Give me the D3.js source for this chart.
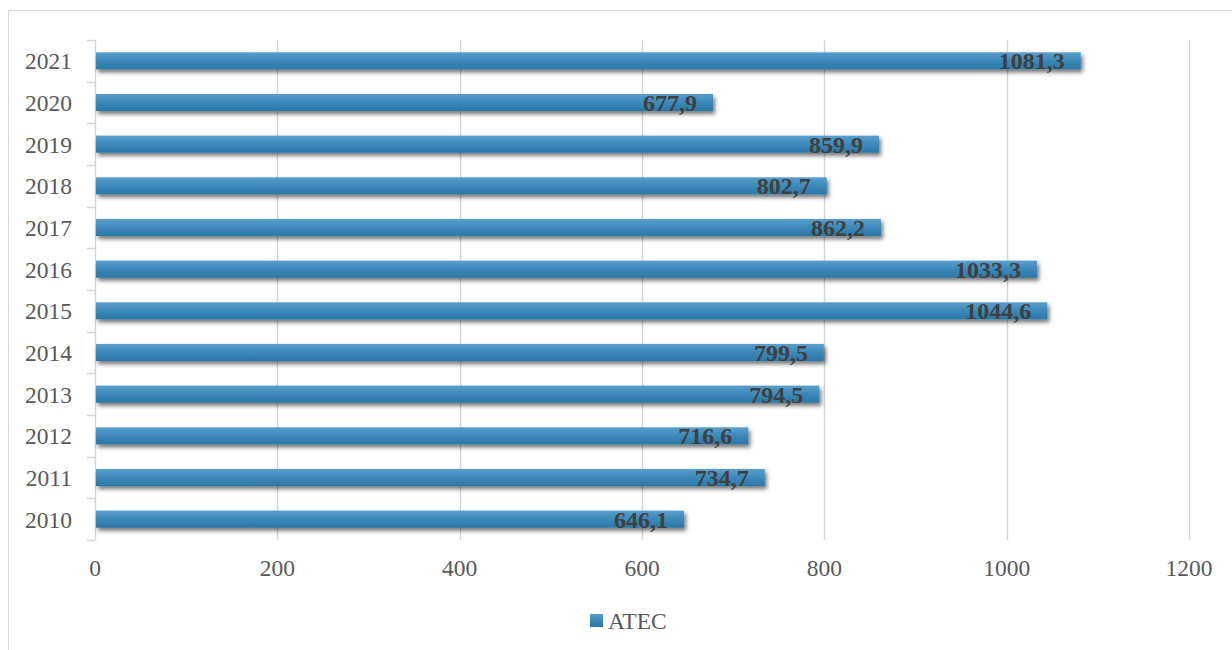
<!DOCTYPE html>
<html>
<head>
<meta charset="utf-8">
<script src="https://cdn.jsdelivr.net/npm/d3@7"></script>
<style>
html,body{margin:0;padding:0;background:#fff;}
svg{display:block;}
</style>
</head>
<body>
<svg id="chart" width="1232" height="650"></svg>
<script>
const years = ["2010","2011","2012","2013","2014","2015","2016","2017","2018","2019","2020","2021"];
const atec = [646.1, 734.7, 716.6, 794.5, 799.5, 1044.6, 1033.3, 862.2, 802.7, 859.9, 677.9, 1081.3];
const xTicks = [0, 200, 400, 600, 800, 1000, 1200];
const seriesName = "ATEC";

(function(){
const svg = d3.select("#chart");
const defs = svg.append("defs");
const grad = defs.append("linearGradient").attr("id","barGrad").attr("x1",0).attr("y1",0).attr("x2",0).attr("y2",1);
grad.append("stop").attr("offset","0%").attr("stop-color","#5a9ecb");
grad.append("stop").attr("offset","45%").attr("stop-color","#3e8bbc");
grad.append("stop").attr("offset","100%").attr("stop-color","#2a77a6");
const f = defs.append("filter").attr("id","shadow").attr("x","-5%").attr("y","-50%").attr("width","110%").attr("height","250%");
f.append("feDropShadow").attr("dx",2).attr("dy",3).attr("stdDeviation",2).attr("flood-color","#000").attr("flood-opacity",0.55);

// chart border
svg.append("rect").attr("x",8.5).attr("y",10.5).attr("width",1240).attr("height",660)
  .attr("fill","none").attr("stroke","#d9d9d9").attr("stroke-width",1);

const pLeft = 95, pRight = 1189, pTop = 40, pBottom = 540;
const x = d3.scaleLinear().domain([0,1200]).range([pLeft,pRight]);
const y = d3.scaleBand().domain(years.slice().reverse()).range([pTop,pBottom]).paddingInner(0.59).paddingOuter(0.295);
const yb = d3.scaleBand().domain(years.slice().reverse()).range([pTop,pBottom]);

// gridlines
svg.append("g").selectAll("line").data(xTicks.slice(1)).join("line")
  .attr("x1",d=>Math.round(x(d))+0.5).attr("x2",d=>Math.round(x(d))+0.5)
  .attr("y1",pTop).attr("y2",pBottom)
  .attr("stroke","#d4d4d4").attr("stroke-width",1.4);

// y axis line and ticks
svg.append("line").attr("x1",pLeft+0.5).attr("x2",pLeft+0.5).attr("y1",pTop).attr("y2",pBottom)
  .attr("stroke","#d4d4d4").attr("stroke-width",1.4);
const tickYs = years.map(d=>yb(d)).concat([pBottom]);
svg.append("g").selectAll("line").data(tickYs).join("line")
  .attr("x1",pLeft-8).attr("x2",pLeft).attr("y1",d=>Math.round(d)+0.5).attr("y2",d=>Math.round(d)+0.5)
  .attr("stroke","#d4d4d4").attr("stroke-width",1.4);

// bars
const data = years.map((yr,i)=>({yr, v: atec[i]}));
svg.append("g").selectAll("rect").data(data).join("rect")
  .attr("x",x(0)+1).attr("y",d=>y(d.yr)).attr("width",d=>x(d.v)-x(0)-1).attr("height",y.bandwidth())
  .attr("fill","url(#barGrad)").attr("filter","url(#shadow)");

// value labels
svg.append("g").selectAll("text").data(data).join("text")
  .attr("x",d=>x(d.v)-16).attr("y",d=>y(d.yr)+y.bandwidth()/2)
  .attr("dy","0.36em").attr("text-anchor","end")
  .attr("font-family","'Liberation Serif','Times New Roman',serif").attr("font-weight","bold")
  .attr("font-size","24px").attr("fill","#404040")
  .text(d=>d3.format(".1f")(d.v).replace(".",","));

// y labels
svg.append("g").selectAll("text").data(years).join("text")
  .attr("x",72).attr("y",d=>yb(d)+yb.bandwidth()/2).attr("dy","0.36em").attr("text-anchor","end")
  .attr("font-family","'Liberation Serif','Times New Roman',serif").attr("font-size","23.5px").attr("fill","#595959")
  .text(d=>d);

// x labels
svg.append("g").selectAll("text").data(xTicks).join("text")
  .attr("x",d=>x(d)).attr("y",568).attr("dy","0.36em").attr("text-anchor","middle")
  .attr("font-family","'Liberation Serif','Times New Roman',serif").attr("font-size","23.5px").attr("fill","#595959")
  .text(d=>d);

// legend
const lg = svg.append("g");
lg.append("rect").attr("x",590).attr("y",614).attr("width",13).attr("height",13).attr("fill","url(#barGrad)");
lg.append("text").attr("x",608).attr("y",621).attr("dy","0.36em")
  .attr("font-family","'Liberation Serif','Times New Roman',serif").attr("font-size","23.5px").attr("fill","#595959")
  .text(seriesName);
})();
</script>
</body>
</html>
